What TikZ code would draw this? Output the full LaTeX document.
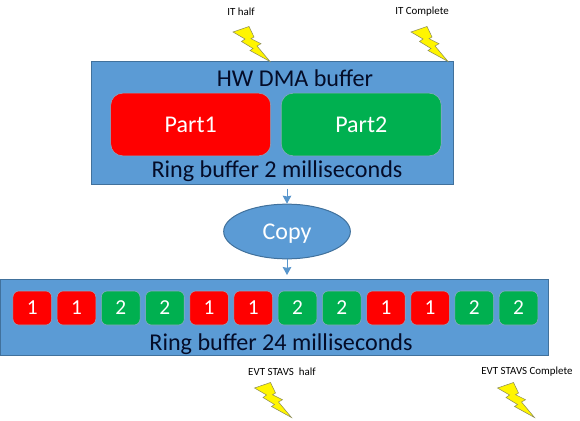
\documentclass[tikz,border=0pt]{standalone}
\usepackage{fontspec}
\setmainfont{Carlito}
\usetikzlibrary{arrows.meta,positioning,shapes.geometric}
\definecolor{bufblue}   {RGB}{ 91,155,213}
\definecolor{bufedge}   {RGB}{ 65,113,156}
\definecolor{partred}   {RGB}{255,  0,  0}
\definecolor{partgreen} {RGB}{  0,176, 80}
\definecolor{captionink}{RGB}{  4, 12, 40}
\definecolor{boltyellow}{RGB}{255,245,  0}
\definecolor{boltedge}  {RGB}{140,140, 90}

\begin{document}
\begin{tikzpicture}[
    x=0.75pt, y=-0.75pt,
    node distance=7.5pt,
    buffer/.style={draw=bufedge, fill=bufblue, rectangle, line width=0.75pt, inner sep=0pt},
    part/.style={rectangle, rounded corners=9pt, draw=bufedge!60!white, line width=0.4pt, minimum width=120pt, minimum height=47pt, text=white, font=\fontsize{18}{20}\selectfont, inner sep=0pt},
    cell/.style={rectangle, rounded corners=4.5pt, draw=bufedge!60!white, line width=0.4pt, minimum width=29pt, minimum height=25.5pt, text=white, font=\fontsize{16}{18}\selectfont, inner sep=0pt},
    redpart/.style={fill=partred},
    greenpart/.style={fill=partgreen},
    caption/.style={text=captionink, font=\fontsize{18.1}{20}\selectfont, inner sep=0pt},
    event/.style={text=black, font=\fontsize{8.2}{10}\selectfont, inner sep=0pt},
    arrow/.style={-{Stealth[length=6pt,width=6.5pt,inset=0.6pt]}, draw=bufblue!85!bufedge, line width=0.75pt},
    bolt/.pic={
        \draw[fill=boltyellow, draw=boltedge, line width=0.4pt, line join=miter]
            (0,0) -- (16,-5.5) -- (21,5) -- (18,6.7) -- (28,11.7) -- (24,14)
            -- (37,29.5) -- (17,18.5) -- (20,16.5) -- (8.5,9.5) -- (12,7) -- cycle;
    }
]
    \useasboundingbox (0,0) rectangle (580,420);

    % upper buffer
    \node[buffer, minimum width=271.5pt, minimum height=91.5pt] (hwbuf) at (272.75,123) {};
    \node[caption] (hwtitle) at (295,78) {HW DMA buffer};
    \node[part, redpart] (part1) at (190.7,124.5) {Part1};
    \node[part, greenpart] (part2) [right=of part1] {Part2};
    \node[caption] (hwring) at (277,171) {Ring buffer 2 milliseconds};

    % copy step
    \node[ellipse, draw=bufedge, fill=bufblue, line width=0.75pt, minimum width=95pt, minimum height=41pt, inner sep=0pt, text=white, text depth=0pt, font=\fontsize{18}{20}\selectfont] (copy) at (287,231.5) {Copy};

    % lower buffer
    \node[buffer, minimum width=411pt, minimum height=57pt] (stavsbuf) at (274.2,317.5) {};
    \foreach \i/\v/\kind in {0/1/redpart,1/1/redpart,2/2/greenpart,3/2/greenpart,
                             4/1/redpart,5/1/redpart,6/2/greenpart,7/2/greenpart,
                             8/1/redpart,9/1/redpart,10/2/greenpart,11/2/greenpart}
        \node[cell, \kind] (cell\i) at ({32.3+44.2*\i},308) {\v};
    \node[caption] (stavsring) at (281,344.5) {Ring buffer 24 milliseconds};

    \draw[arrow, shorten <=3pt] (copy |- hwbuf.south) -- (copy.north);
    \draw[arrow, shorten >=3pt] (copy.south) -- (copy |- stavsbuf.north);

    % interrupts
    \node[event] (ithalf) at (241,12) {IT half};
    \node[event] (itcomplete) at (422,12) {IT Complete};
    \node[event] (evthalf) at (282,372) {EVT STAVS\ \ half};
    \node[event] (evtcomplete) at (527,372) {EVT STAVS Complete};
    \pic at (233,32) {bolt};
    \pic at (411,32) {bolt};
    \pic at (254.5,388) {bolt};
    \pic at (497.5,388) {bolt};
\end{tikzpicture}
\end{document}
